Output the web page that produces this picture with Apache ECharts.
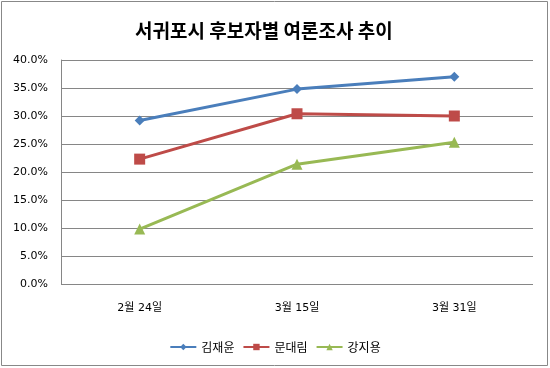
<!DOCTYPE html>
<html><head><meta charset="utf-8">
<script src="https://cdn.jsdelivr.net/npm/echarts@6/dist/echarts.min.js"></script>
<style>html,body{margin:0;padding:0;background:#fff}#c{width:550px;height:368px}</style>
</head><body><div id="c"></div>
<script>
const categories = ['2월 24일', '3월 15일', '3월 31일'];
const seriesNames = ['김재윤', '문대림', '강지용'];
const kimValues = [29.2, 34.8, 37.0];
const moonValues = [22.3, 30.4, 30.0];
const kangValues = [9.8, 21.4, 25.3];
const colors = ['#4A7EBB', '#BE4B48', '#98B954'];
const symbols = ['diamond', 'rect', 'triangle'];
const symbolSizes = [10, 11, 11];
const allValues = [kimValues, moonValues, kangValues];

const chart = echarts.init(document.getElementById('c'), null, {renderer: 'canvas'});
const font = 'Tahoma, "DejaVu Sans", "Noto Sans CJK KR", sans-serif';
chart.setOption({
  animation: false,
  backgroundColor: '#fff',
  title: {
    text: '서귀포시 후보자별 여론조사 추이',
    left: 130, top: 16,
    textStyle: {fontSize: 19, fontWeight: 'bold', color: '#000', fontFamily: '"Noto Sans CJK KR", sans-serif'}
  },
  graphic: [{type: 'rect', shape: {x: 1.5, y: 1.5, width: 546, height: 364}, style: {fill: 'none', stroke: '#888', lineWidth: 1}, silent: true}],
  grid: {left: 61, right: 17, top: 60, bottom: 84, containLabel: false},
  legend: {
    bottom: 10, left: 'center',
    itemWidth: 26, itemHeight: 8, itemGap: 8,
    textStyle: {fontSize: 12, color: '#000', fontFamily: '"Noto Sans CJK KR", sans-serif'},
    data: seriesNames
  },
  xAxis: {
    type: 'category', data: categories, boundaryGap: true,
    axisLine: {show: false},
    axisTick: {show: false},
    axisLabel: {fontSize: 11, color: '#000', margin: 19, fontFamily: font}
  },
  yAxis: {
    type: 'value', min: 0, max: 40, interval: 5,
    axisLine: {show: true, lineStyle: {color: '#868686', width: 1}},
    axisTick: {show: false},
    splitLine: {show: true, lineStyle: {color: '#868686', width: 1}},
    axisLabel: {formatter: v => v.toFixed(1) + '%', fontSize: 11, color: '#000', margin: 13, fontFamily: font}
  },
  series: seriesNames.map((n, i) => ({
    name: n, type: 'line', data: allValues[i],
    symbol: symbols[i], symbolSize: symbolSizes[i],
    lineStyle: {color: colors[i], width: 3},
    itemStyle: {color: colors[i]},
    z: 3 - i
  }))
});
</script></body></html>
